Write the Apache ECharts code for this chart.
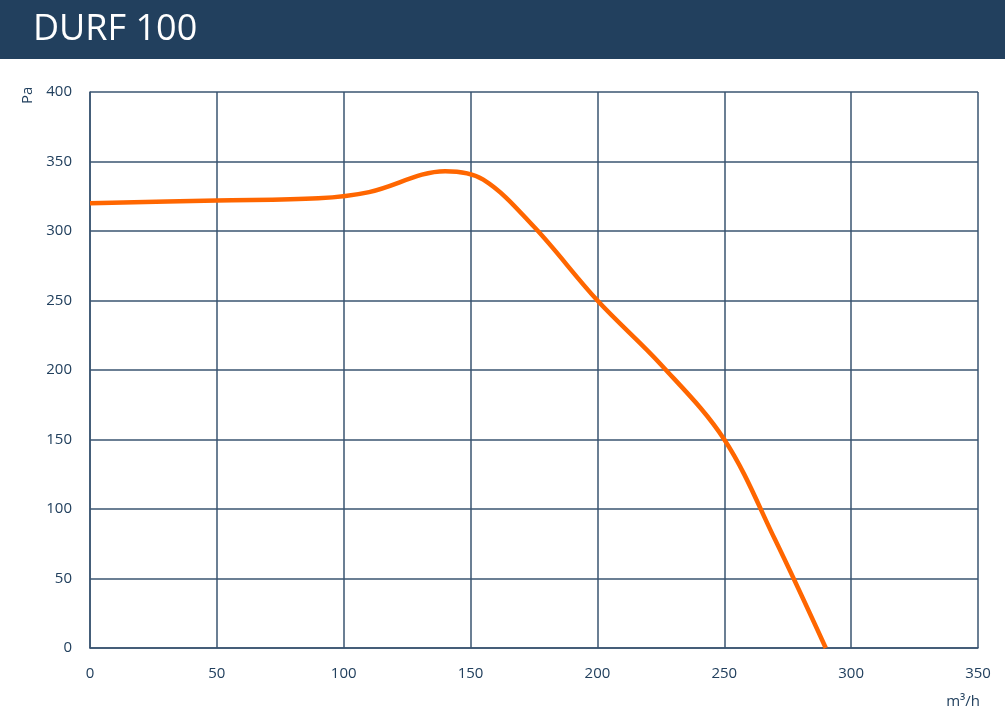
<!DOCTYPE html>
<html>
<head>
<meta charset="utf-8">
<script src="https://cdn.jsdelivr.net/npm/echarts@6/dist/echarts.min.js"></script>
<style>
html,body{margin:0;padding:0;background:#fff;}
#c{width:1005px;height:716px;}
</style>
</head>
<body>
<div id="c"></div>
<script>
const title = "DURF 100";
const xName = "m³/h";
const yName = "Pa";
const flow = [0, 50, 90, 110, 140, 155, 175, 200, 225, 250, 270, 290];
const pressure = [320, 322, 323.5, 328, 343, 337, 303, 250, 204, 150, 78, 0];

const chart = echarts.init(document.getElementById('c'));
const font = "'Open Sans', 'Noto Sans', sans-serif";
const ink = '#22405e';
const gridColor = '#3a5470';
chart.setOption({
  animation: false,
  graphic: [
    {type: 'rect', left: 0, top: 0, shape: {width: 1005, height: 59}, style: {fill: '#22405e'}},
    {type: 'text', left: 33, top: 12, style: {text: title, fill: '#ffffff', font: "36px " + font}},
    {type: 'text', x: 28, y: 104, rotation: Math.PI / 2, style: {text: yName, fill: ink, font: "15px " + font, align: 'left', verticalAlign: 'middle'}},
    {type: 'text', x: 980, y: 702, style: {text: xName, fill: ink, font: "15px " + font, align: 'right', verticalAlign: 'middle'}}
  ],
  grid: {left: 90, right: 27, top: 92, bottom: 68, containLabel: false},
  xAxis: {
    type: 'value', min: 0, max: 350, interval: 50,
    axisLine: {show: true, lineStyle: {color: gridColor, width: 1.5}},
    axisTick: {show: false},
    axisLabel: {color: ink, fontSize: 15, fontFamily: font, margin: 18},
    splitLine: {show: true, lineStyle: {color: gridColor, width: 1.5}}
  },
  yAxis: {
    type: 'value', min: 0, max: 400, interval: 50,
    axisLine: {show: true, lineStyle: {color: gridColor, width: 1.5}},
    axisTick: {show: false},
    axisLabel: {color: ink, fontSize: 15, fontFamily: font, margin: 18},
    splitLine: {show: true, lineStyle: {color: gridColor, width: 1.5}}
  },
  series: [{
    type: 'line',
    data: flow.map((x, i) => [x, pressure[i]]),
    smooth: 0.35,
    symbol: 'none',
    lineStyle: {color: '#ff6600', width: 4.5}
  }]
});
</script>
</body>
</html>
